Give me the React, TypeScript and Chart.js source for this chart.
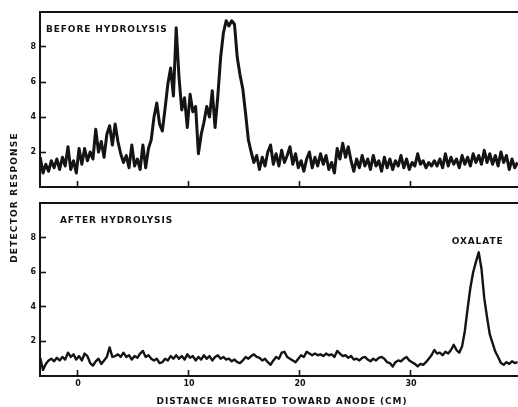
import { useEffect, useRef } from "react";
import { Chart, registerables } from "chart.js";

Chart.register(...registerables);

// ---- data ----
const DIST_START = -3.4; // cm, first sample
const DIST_STEP = 0.25; // cm between samples
const X_MIN = -3.42;
const X_MAX = 39.64;
const X_TICKS = [0, 10, 20, 30];
const Y_MIN = 0;
const Y_MAX = 10;
const Y_TICKS = [2, 4, 6, 8];

const BEFORE = [
  1.7, 0.8, 1.3, 0.9, 1.5, 1.1, 1.6, 1.0, 1.7, 1.2,
  2.3, 1.0, 1.5, 0.8, 2.2, 1.3, 2.2, 1.5, 2.0, 1.6,
  3.3, 2.0, 2.6, 1.7, 3.0, 3.5, 2.4, 3.6, 2.6, 1.9,
  1.4, 1.8, 1.1, 2.4, 1.2, 1.6, 1.0, 2.4, 1.1, 2.2,
  2.7, 4.0, 4.8, 3.6, 3.2, 4.5, 5.9, 6.8, 5.2, 9.1,
  6.3, 4.4, 5.1, 3.4, 5.3, 4.3, 4.6, 1.9, 3.0, 3.7,
  4.6, 4.0, 5.5, 3.4, 5.2, 7.4, 8.8, 9.5, 9.2, 9.5,
  9.3, 7.4, 6.4, 5.6, 4.2, 2.7, 2.0, 1.4, 1.8, 1.0,
  1.7, 1.2, 2.0, 2.4, 1.3, 1.9, 1.2, 2.1, 1.4, 1.8,
  2.3, 1.3, 1.9, 1.1, 1.5, 0.9, 1.6, 2.0, 1.1, 1.7,
  1.2, 1.9, 1.3, 1.8, 1.0, 1.4, 0.8, 2.2, 1.6, 2.5,
  1.7, 2.3, 1.5, 0.9, 1.6, 1.1, 1.8, 1.2, 1.6, 1.0,
  1.8, 1.2, 1.5, 0.9, 1.7, 1.1, 1.6, 1.0, 1.5, 1.2,
  1.8, 1.1, 1.6, 1.0, 1.4, 1.2, 1.9, 1.3, 1.5, 1.1,
  1.4, 1.2, 1.5, 1.2, 1.6, 1.1, 1.9, 1.2, 1.7, 1.3,
  1.6, 1.1, 1.8, 1.3, 1.7, 1.2, 1.9, 1.4, 1.8, 1.3,
  2.1, 1.4, 1.9, 1.3, 1.8, 1.2, 2.0, 1.4, 1.8, 1.0,
  1.6, 1.1, 1.4,
];

const AFTER = [
  1.05, 0.35, 0.7, 0.9, 1.0, 0.85, 1.05, 0.9, 1.1, 0.95,
  1.35, 1.1, 1.25, 0.95, 1.15, 0.9, 1.3, 1.15, 0.75, 0.6,
  0.85, 1.0, 0.7, 0.9, 1.1, 1.65, 1.1, 1.15, 1.25, 1.1,
  1.35, 1.1, 1.2, 0.95, 1.15, 1.05, 1.3, 1.45, 1.1, 1.2,
  1.0, 0.9, 1.0, 0.75, 0.8, 1.0, 0.9, 1.15, 1.0, 1.2,
  1.0, 1.15, 0.95, 1.25, 1.05, 1.15, 0.9, 1.1, 0.95, 1.2,
  1.0, 1.15, 0.9, 1.1, 1.2, 1.0, 1.1, 0.95, 1.0, 0.85,
  0.95, 0.8, 0.75, 0.9, 1.1, 1.0, 1.15, 1.25, 1.1, 1.05,
  0.9, 1.0, 0.8, 0.65, 0.9, 1.1, 1.0, 1.35, 1.4, 1.1,
  1.0, 0.9, 0.8, 1.0, 1.2, 1.1, 1.4, 1.3, 1.2, 1.3,
  1.2, 1.25, 1.15, 1.3, 1.2, 1.25, 1.1, 1.45, 1.3, 1.15,
  1.2, 1.05, 1.15, 0.95, 1.0, 0.9, 1.05, 1.1, 0.95, 0.85,
  1.0, 0.9, 1.05, 1.1, 1.0, 0.8, 0.75, 0.55, 0.8, 0.9,
  0.85, 1.0, 1.1, 0.9, 0.8, 0.7, 0.55, 0.7, 0.65, 0.8,
  1.0, 1.2, 1.5, 1.3, 1.35, 1.2, 1.4, 1.3, 1.5, 1.8,
  1.5, 1.35, 1.7, 2.6, 3.9, 5.1, 6.0, 6.6, 7.15, 6.2,
  4.5, 3.4, 2.4, 1.9, 1.4, 1.1, 0.75, 0.65, 0.8, 0.7,
  0.85, 0.75, 0.8,
];

const PANEL_BEFORE = "BEFORE HYDROLYSIS";
const PANEL_AFTER = "AFTER HYDROLYSIS";
const PEAK_LABEL = "OXALATE";
const PEAK_DIST = 36.0;
const PEAK_VALUE = 7.15;
const X_TITLE = "DISTANCE MIGRATED TOWARD ANODE (CM)";
const Y_TITLE = "DETECTOR RESPONSE";

// ---- styles ----
const W = 518;
const H = 407;
const INK = "#141414";
const FAMILY = "'DejaVu Sans', sans-serif";
const LABEL_FONT = `bold 9px ${FAMILY}`;
const TICK_FONT = { family: FAMILY, size: 8, weight: "bold" as const };

function spacedText(
  ctx: CanvasRenderingContext2D,
  text: string,
  x: number,
  y: number,
  align: CanvasTextAlign,
  spacing = 0.9
) {
  ctx.font = LABEL_FONT;
  ctx.fillStyle = INK;
  ctx.textBaseline = "middle";
  ctx.textAlign = align;
  (ctx as any).letterSpacing = `${spacing}px`;
  ctx.fillText(text, x, y);
}

function topBorder(chart: any) {
  const { ctx, chartArea } = chart;
  ctx.save();
  ctx.strokeStyle = INK;
  ctx.lineWidth = 2;
  ctx.beginPath();
  ctx.moveTo(chartArea.left - 1, chartArea.top);
  ctx.lineTo(chartArea.right, chartArea.top);
  ctx.stroke();
  ctx.restore();
}

function makeChart(
  canvas: HTMLCanvasElement,
  values: number[],
  showXLabels: boolean,
  padding: { top: number; bottom: number; left: number; right: number },
  xHeight: number,
  lineWidth: number,
  annotate: (chart: any, ctx: CanvasRenderingContext2D) => void
) {
  const points = values.map((v, i) => ({ x: DIST_START + i * DIST_STEP, y: v }));
  return new Chart(canvas, {
    type: "line",
    data: {
      datasets: [
        {
          data: points,
          borderColor: INK,
          borderWidth: lineWidth,
          pointRadius: 0,
          tension: 0,
          fill: false,
          borderJoinStyle: "round",
        },
      ],
    },
    options: {
      responsive: false,
      animation: false,
      events: [],
      layout: { padding, autoPadding: false },
      plugins: { legend: { display: false }, tooltip: { enabled: false } },
      scales: {
        x: {
          type: "linear",
          min: X_MIN,
          max: X_MAX,
          afterBuildTicks: (s: any) => {
            s.ticks = X_TICKS.map((v) => ({ value: v }));
          },
          afterFit: (s: any) => {
            s.height = xHeight;
            s.paddingLeft = 0;
            s.paddingRight = 0;
          },
          ticks: {
            display: showXLabels,
            padding: 9.5,
            font: TICK_FONT,
            color: INK,
            maxRotation: 0,
            autoSkip: false,
          },
          grid: {
            drawOnChartArea: false,
            drawTicks: true,
            tickLength: -6,
            tickWidth: 1.6,
            tickColor: INK,
          },
          border: { display: true, color: INK, width: 2 },
        },
        y: {
          type: "linear",
          min: Y_MIN,
          max: Y_MAX,
          afterBuildTicks: (s: any) => {
            s.ticks = Y_TICKS.map((v) => ({ value: v }));
          },
          afterFit: (s: any) => {
            s.width = 40;
            s.paddingTop = 0;
            s.paddingBottom = 0;
          },
          ticks: {
            padding: 10,
            font: TICK_FONT,
            color: INK,
            autoSkip: false,
          },
          grid: {
            drawOnChartArea: false,
            drawTicks: true,
            tickLength: -6,
            tickWidth: 1.6,
            tickColor: INK,
          },
          border: { display: true, color: INK, width: 2 },
        },
      },
    },
    plugins: [
      {
        id: "annotations",
        afterDraw(chart: any) {
          topBorder(chart);
          const ctx = chart.ctx as CanvasRenderingContext2D;
          ctx.save();
          annotate(chart, ctx);
          ctx.restore();
        },
      },
    ],
  } as any);
}

export default function App() {
  const topRef = useRef<HTMLCanvasElement>(null);
  const bottomRef = useRef<HTMLCanvasElement>(null);

  useEffect(() => {
    if (!topRef.current || !bottomRef.current) return;
    const top = makeChart(
      topRef.current,
      BEFORE,
      false,
      { top: 12, bottom: 220, left: 0, right: 0 },
      0,
      3,
      (chart, ctx) => {
        const a = chart.chartArea;
        spacedText(ctx, PANEL_BEFORE, a.left + 6, a.top + 18, "left");
        ctx.save();
        ctx.translate(15, a.bottom + 10.5);
        ctx.rotate(-Math.PI / 2);
        spacedText(ctx, Y_TITLE, 0, 0, "center", 1.2);
        ctx.restore();
      }
    );
    const bottom = makeChart(
      bottomRef.current,
      AFTER,
      true,
      { top: 203, bottom: 0, left: 0, right: 0 },
      31,
      2.4,
      (chart, ctx) => {
        const a = chart.chartArea;
        const xs = chart.scales.x;
        const ys = chart.scales.y;
        spacedText(ctx, PANEL_AFTER, a.left + 20, a.top + 17.5, "left");
        spacedText(
          ctx,
          PEAK_LABEL,
          xs.getPixelForValue(PEAK_DIST),
          ys.getPixelForValue(PEAK_VALUE) - 10.5,
          "center"
        );
        spacedText(ctx, X_TITLE, (a.left + a.right) / 2 + 3, a.bottom + 26, "center", 0.9);
      }
    );
    return () => {
      top.destroy();
      bottom.destroy();
    };
  }, []);

  const canvasStyle: React.CSSProperties = {
    position: "absolute",
    left: 0,
    top: 0,
    width: W,
    height: H,
  };

  return (
    <div
      style={{
        position: "fixed",
        left: 0,
        top: 0,
        width: W,
        height: H,
        background: "#ffffff",
        overflow: "hidden",
      }}
    >
      <canvas ref={topRef} width={W} height={H} style={canvasStyle} />
      <canvas ref={bottomRef} width={W} height={H} style={canvasStyle} />
    </div>
  );
}
